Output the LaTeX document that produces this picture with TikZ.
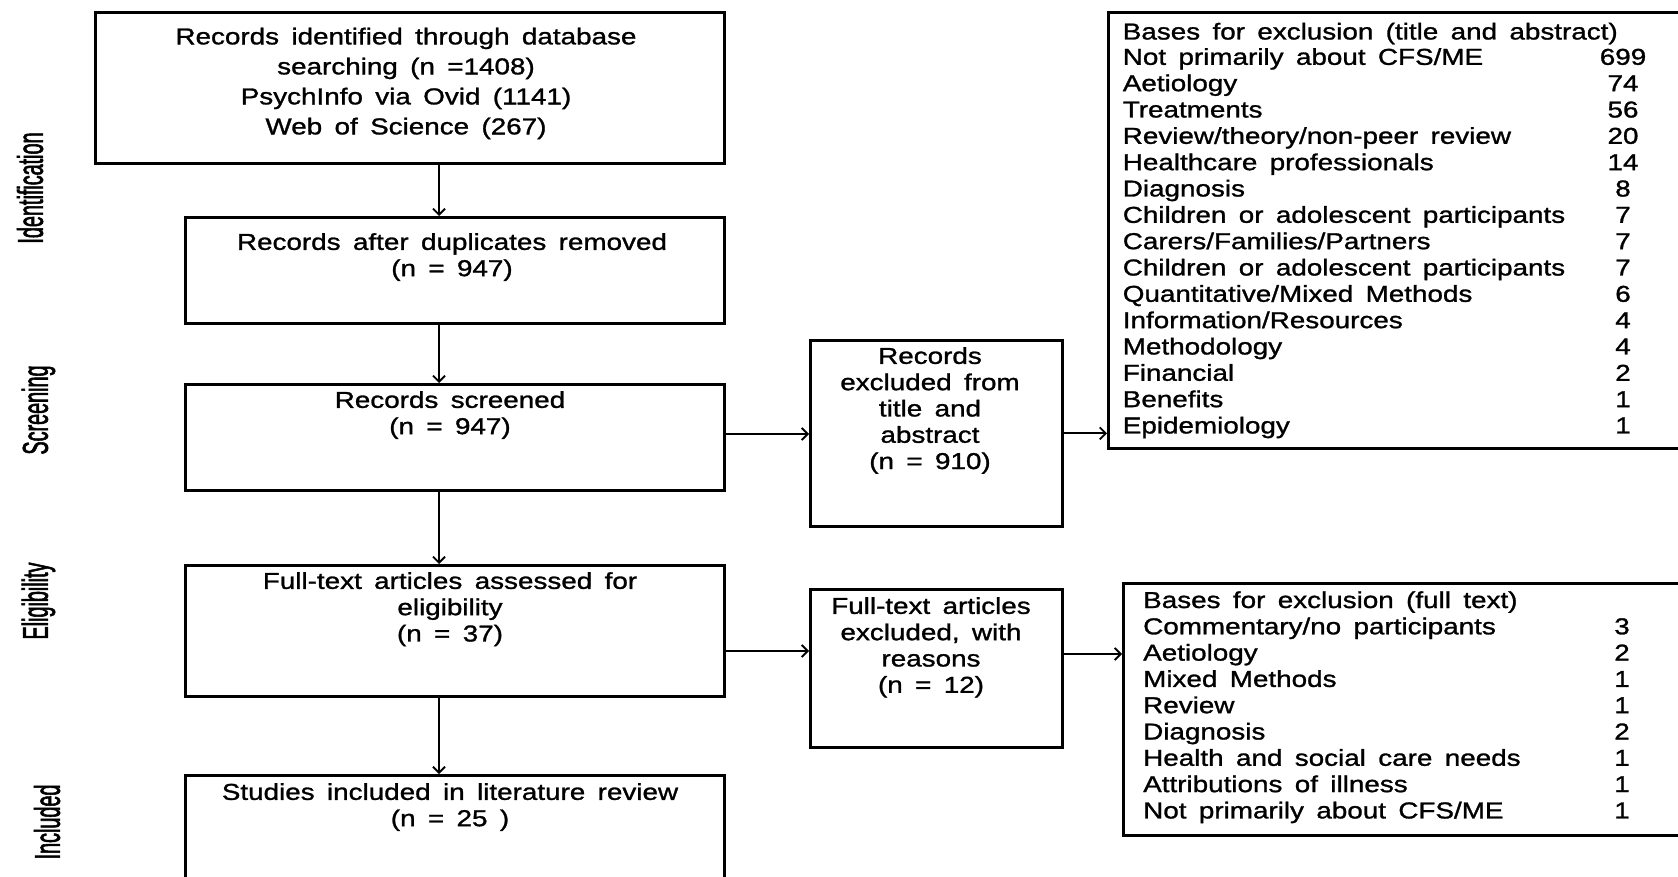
\documentclass[tikz,border=0pt]{standalone}
\usepackage{fontspec}
\setmainfont{Liberation Sans}[FakeStretch=1.21, WordSpace=1.6, FakeBold=1.2]
\newfontfamily\sidefont{Liberation Sans}[FakeStretch=0.55, FakeBold=1.5]
\usetikzlibrary{arrows.meta}
\begin{document}
\begin{tikzpicture}[x=1pt,y=-1pt,
  box/.style={draw, line width=2.6pt, inner sep=0, anchor=north west},
  txt/.style={font=\fontsize{23}{26.3}\selectfont, align=center, inner sep=0, anchor=north},
  itm/.style={font=\fontsize{23}{26.3}\selectfont, inner sep=0, anchor=base west},
  num/.style={font=\fontsize{23}{26.3}\selectfont, inner sep=0, anchor=base},
  side/.style={font=\sidefont\fontsize{36}{36}\selectfont, inner sep=0, rotate=90},
  arr/.style={line width=2.2pt, -{Straight Barb[length=6pt,width=12pt,line width=1.8pt]}}]

\useasboundingbox (0,0) rectangle (1678,877);
\clip (0,0) rectangle (1678,877);
\fill[white] (0,0) rectangle (1678,877);

% main column boxes
\node[box, minimum width=629, minimum height=151] (b1) at (94,11) {};
\node[box, minimum width=539, minimum height=106] (b2) at (184,216) {};
\node[box, minimum width=539, minimum height=106] (b3) at (184,383) {};
\node[box, minimum width=539, minimum height=131] (b4) at (184,564) {};
\node[box, minimum width=539, minimum height=130] (b5) at (184,774) {};
% exclusion boxes
\node[box, minimum width=252, minimum height=186] (e1) at (809,339) {};
\node[box, minimum width=252, minimum height=158] (e2) at (809,588) {};
\node[box, minimum width=620, minimum height=436] (g1) at (1107,11) {};
\node[box, minimum width=620, minimum height=252] (g2) at (1122,582) {};

% texts
\node[txt, font=\fontsize{23}{30}\selectfont] (t1) at (406,27.5)
  {Records identified through database\\searching (n =1408)\\PsychInfo via Ovid (1141)\\Web of Science (267)};
\node[txt] (t2) at (452,233) {Records after duplicates removed\\(n = 947)};
\node[txt] (t3) at (450,391) {Records screened\\(n = 947)};
\node[txt] (t4) at (450,572) {Full-text articles assessed for\\eligibility\\(n = 37)};
\node[txt] (t5) at (450,783) {Studies included in literature review\\(n = 25 )};
\node[txt] (te1) at (930,347) {Records\\excluded from\\title and\\abstract\\(n = 910)};
\node[txt] (te2) at (931,597) {Full-text articles\\excluded, with\\reasons\\(n = 12)};

% list 1
\node[itm] (h1) at (1122.6,39.5) {Bases for exclusion (title and abstract)};
\foreach \t/\n [count=\i] in {
  {Not primarily about CFS/ME}/699,
  Aetiology/74,
  Treatments/56,
  {Review/theory/non-peer review}/20,
  Healthcare professionals/14,
  Diagnosis/8,
  Children or adolescent participants/7,
  {Carers/Families/Partners}/7,
  Children or adolescent participants/7,
  {Quantitative/Mixed Methods}/6,
  {Information/Resources}/4,
  Methodology/4,
  Financial/2,
  Benefits/1,
  Epidemiology/1}{
  \node[itm] (a\i) at (1122.6,38.5+26.33*\i) {\t};
  \node[num] (an\i) at (1623,38.5+26.33*\i) {\n};
}

% list 2
\node[itm] (h2) at (1143,608) {Bases for exclusion (full text)};
\foreach \t/\n [count=\i] in {
  {Commentary/no participants}/3,
  Aetiology/2,
  Mixed Methods/1,
  Review/1,
  Diagnosis/2,
  Health and social care needs/1,
  Attributions of illness/1,
  {Not primarily about CFS/ME}/1}{
  \node[itm] (c\i) at (1143,608+26.3*\i) {\t};
  \node[num] (cn\i) at (1622,608+26.3*\i) {\n};
}

% side labels
\node[side] (s1) at (30,188) {Identification};
\node[side] (s2) at (38.5,410) {Screening};
\node[side] (s3) at (38.5,601) {Eligibility};
\node[side] (s4) at (47,822) {Included};

% connectors
\coordinate (ax) at (439,0);
\draw[arr] (b1.south -| ax) -- (b2.north -| ax);
\draw[arr] (b2.south -| ax) -- (b3.north -| ax);
\draw[arr] (b3.south -| ax) -- (b4.north -| ax);
\draw[arr] (b4.south -| ax) -- (b5.north -| ax);
\coordinate (r1) at (0,434);
\coordinate (r2) at (0,651);
\coordinate (r3) at (0,654);
\draw[arr] (b3.east |- r1) -- (e1.west |- r1);
\draw[arr] (e1.east) -- (e1.east -| g1.west);
\draw[arr] (b4.east |- r2) -- (e2.west |- r2);
\draw[arr] (e2.east |- r3) -- (g2.west |- r3);
\end{tikzpicture}
\end{document}
